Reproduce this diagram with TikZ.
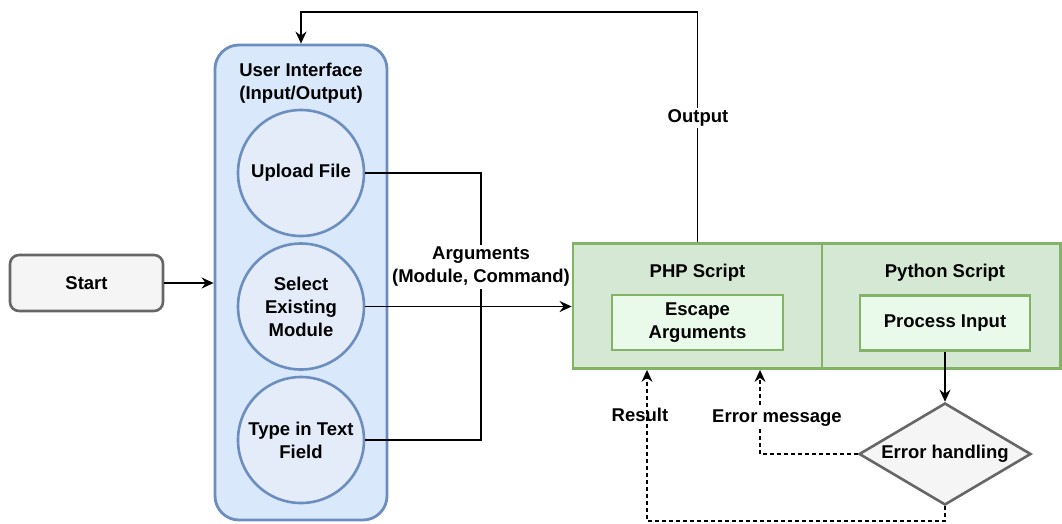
\documentclass[tikz,border=0pt]{standalone}
\usepackage{fontspec}
\setmainfont{Liberation Sans}
\usetikzlibrary{arrows.meta,shapes.geometric}
\definecolor{uifill}{HTML}{DAE8FC}
\definecolor{uidraw}{HTML}{6C8EBF}
\definecolor{cfill}{HTML}{E4ECFA}
\definecolor{gfill}{HTML}{D5E8D4}
\definecolor{gdraw}{HTML}{82B366}
\definecolor{ginner}{HTML}{EAFAEA}
\definecolor{grayfill}{HTML}{F5F5F5}
\definecolor{graydraw}{HTML}{666666}
\tikzset{
  x=1pt, y=-1pt,
  every node/.style={font=\bfseries\fontsize{18.5}{23}\selectfont, align=center, text=black},
  startbox/.style={draw=graydraw, fill=grayfill, line width=2.6pt, rounded corners=9pt, minimum width=153pt, minimum height=56pt, inner sep=0pt},
  uibox/.style={draw=uidraw, fill=uifill, line width=2.8pt, rounded corners=24pt, minimum width=172pt, minimum height=475pt, inner sep=0pt},
  opt/.style={circle, draw=uidraw, fill=cfill, line width=2.6pt, minimum size=126pt, inner sep=0pt},
  script/.style={draw=gdraw, fill=gfill, line width=2.8pt, minimum height=125pt, inner sep=0pt},
  inner/.style={draw=gdraw, fill=ginner, line width=2.8pt, minimum width=171pt, minimum height=55pt, inner sep=0pt},
  decide/.style={diamond, aspect=1.69, draw=graydraw, fill=grayfill, line width=2.6pt, minimum width=172pt, minimum height=102pt, inner sep=0pt},
  conn/.style={line width=1.6pt, draw=black},
  arr/.style={conn, -{Stealth[length=12pt,width=11pt,inset=4pt]}},
  darr/.style={arr, dash pattern=on 4pt off 3pt},
  lbl/.style={fill=white, inner sep=2pt},
}
\begin{document}
\begin{tikzpicture}
\useasboundingbox (0,0) rectangle (1062,523);
% nodes
\node[startbox] (start) at (86.5,283) {Start};
\node[uibox] (ui) at (301,282.5) {};
\node (uititle) at (301,83) {User Interface\\(Input/Output)};
\node[opt] (upload) at (301,173) {Upload File};
\node[opt] (select) at (301,306.5) {Select\\Existing\\Module};
\node[opt] (type) at (301,440) {Type in Text\\Field};
\node[script, minimum width=249pt] (php) at (697.5,306) {};
\node[script, minimum width=238.5pt] (py) at (941.25,306) {};
\node (phpt) at (697.5,273) {PHP Script};
\node (pyt) at (945,273) {Python Script};
\node[inner] (esc) at (697.5,322.5) {Escape\\Arguments};
\node[inner, minimum width=170pt] (proc) at (945,323) {Process Input};
\node[decide] (dia) at (945,454) {Error handling};
% helper coordinates
\coordinate (jx) at (481,0);
\coordinate (topy) at (0,12);
\coordinate (boty) at (0,521);
\coordinate (errx) at (760,0);
\coordinate (resx) at (647,0);
% connectors
\draw[arr] (start.east) -- (start.east -| ui.west);
\draw[conn] (upload.east) -- (upload.east -| jx) -- (type.east -| jx) -- (type.east);
\node[lbl] (args) at (481,267) {Arguments\\(Module, Command)};
\draw[arr] (select.east) -- (select.east -| php.west);
\draw[arr] (php.north) -- (php.north |- topy) -| (ui.north);
\node[lbl] (outl) at (698,118) {Output};
\draw[arr] (proc.south) -- (dia.north);
\draw[darr] (dia.west) -| (php.south -| errx);
\node[lbl] (errl) at (777,418) {Error message};
\draw[darr] (dia.south) -- (dia.south |- boty) -| (php.south -| resx);
\node[lbl, fill=none] (resl) at (640,415) {Result};
\end{tikzpicture}
\end{document}
